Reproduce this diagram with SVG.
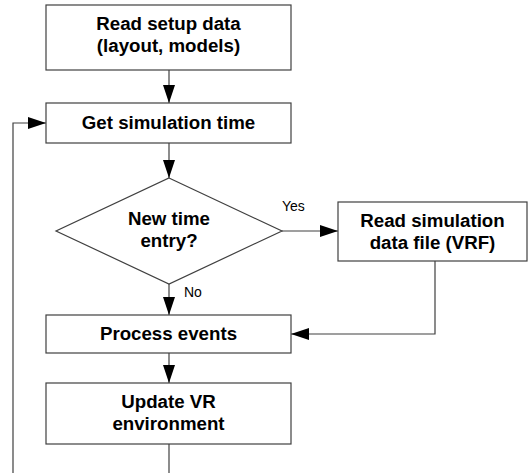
<svg xmlns="http://www.w3.org/2000/svg" width="529" height="473" viewBox="0 0 529 473">
<defs>
<marker id="ah" viewBox="0 0 18 12" refX="18" refY="6" markerWidth="18" markerHeight="12" markerUnits="userSpaceOnUse" orient="auto">
<path d="M0,0 L18,6 L0,12 Z" fill="#000"/>
</marker>
</defs>
<style>
.box{fill:#fff;stroke:#404040;stroke-width:1.2}
.t{font-family:"Liberation Sans",Arial,sans-serif;font-weight:bold;font-size:18.7px;fill:#000;text-anchor:middle}
.l{font-family:"Liberation Sans",Arial,sans-serif;font-size:14px;fill:#000}
.c{fill:none;stroke:#404040;stroke-width:1.2}
.a{marker-end:url(#ah)}
</style>
<rect width="529" height="473" fill="#fff"/>
<g id="connectors">
<line class="c a" x1="169" y1="70" x2="169" y2="103"/>
<line class="c a" x1="169" y1="143" x2="169" y2="178"/>
<line class="c a" x1="282" y1="231" x2="338" y2="231"/>
<line class="c a" x1="169" y1="284" x2="169" y2="315"/>
<polyline class="c a" points="435,261 435,334 291,334"/>
<line class="c a" x1="169" y1="353" x2="169" y2="383"/>
<line class="c" x1="169" y1="444" x2="169" y2="473"/>
<polyline class="c a" points="13,473 13,123 46,123"/>
<text class="l" x="282" y="211">Yes</text>
<text class="l" x="184" y="297">No</text>
</g>
<g id="read-setup">
<rect class="box" x="46" y="5" width="245" height="65"/>
<text class="t" x="168.5" y="30">Read setup data</text>
<text class="t" x="168.5" y="52">(layout, models)</text>
</g>
<g id="get-time">
<rect class="box" x="46" y="103" width="245" height="40"/>
<text class="t" x="168.5" y="129">Get simulation time</text>
</g>
<g id="decision">
<polygon class="box" points="169,178 282,231 169,284 56,231"/>
<text class="t" x="169" y="225">New time</text>
<text class="t" x="169" y="247">entry?</text>
</g>
<g id="read-vrf">
<rect class="box" x="338" y="202" width="189" height="59"/>
<text class="t" x="432.5" y="227">Read simulation</text>
<text class="t" x="432.5" y="249">data file (VRF)</text>
</g>
<g id="process">
<rect class="box" x="46" y="315" width="245" height="38"/>
<text class="t" x="168.5" y="340">Process events</text>
</g>
<g id="update">
<rect class="box" x="46" y="383" width="245" height="61"/>
<text class="t" x="168.5" y="408">Update VR</text>
<text class="t" x="168.5" y="430">environment</text>
</g>
</svg>
